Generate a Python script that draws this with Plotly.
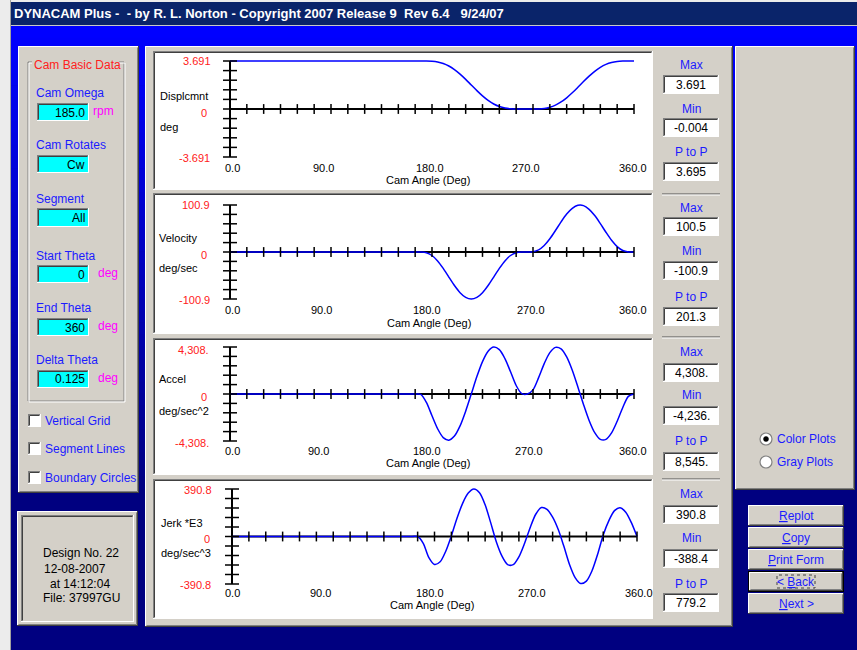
import plotly.graph_objects as go

W, H = 857, 650
FONT = "Liberation Sans"

# ---------------- data ----------------
ANGLE = [0, 160, 165, 170, 175, 180, 185, 190, 195, 200, 205, 210, 215, 220, 225, 230, 235, 240,
         245, 250, 255, 260, 265, 270, 275, 280, 285, 290, 295, 300, 305, 310, 315, 320, 325,
         330, 335, 340, 345, 350, 355, 360]
DISPL = [3.691, 3.691, 3.691, 3.691, 3.689, 3.671, 3.615, 3.498, 3.305, 3.030, 2.683, 2.279,
         1.846, 1.412, 1.008, 0.661, 0.386, 0.193, 0.076, 0.020, 0.002, 0.000, -0.004, 0.000,
         0.009, 0.047, 0.137, 0.299, 0.541, 0.861, 1.245, 1.670, 2.109, 2.527, 2.900, 3.205,
         3.430, 3.577, 3.655, 3.685, 3.691, 3.691]
VEL = [0, 0, 0, 0, -1.5, -7.5, -19.1, -35.3, -53.8, -72.0, -87.3, -97.4, -100.9, -97.4, -87.3,
       -72.0, -53.8, -35.3, -19.1, -7.5, -1.5, 0, 0, 0.5, 4.4, 13.8, 28.3, 46.1, 64.7, 81.4,
       93.7, 100.2, 99.6, 91.6, 78.3, 61.0, 42.4, 25.1, 11.5, 3.2, 0.2, 0]
ACCEL = [0, 0, 0, -27, -765, -1998, -3187, -3994, -4232, -3854, -2921, -1570, 0, 1596, 2970,
         3919, 4304, 4062, 3241, 2032, 778, 27, 0, 380, 1505, 2784, 3788, 4274, 4139, 3403,
         2182, 650, -957, -2421, -3541, -4154, -4162, -3571, -2501, -1234, -220, 0]
JERK = [0, 0, 0, -56, -174, -230, -208, -121, 6, 150, 273, 357, 390, 360, 261, 112, -45, -162,
        -231, -232, -168, -58, 72, 183, 238, 224, 159, 57, -81, -230, -338, -387, -367, -282,
        -146, 13, 131, 213, 237, 200, 114, 0]
SERIES = [DISPL, VEL, ACCEL, JERK]

PLOT_NAMES = ["Displcmnt", "Velocity", "Accel", "Jerk *E3"]
PLOT_UNITS = ["deg", "deg/sec", "deg/sec^2", "deg/sec^3"]
AXIS_MAX = [3.691, 100.9, 4308, 390.8]
AXIS_MAX_TXT = ["3.691", "100.9", "4,308.", "390.8"]
STAT_MAX = ["3.691", "100.5", "4,308.", "390.8"]
STAT_MIN = ["-0.004", "-100.9", "-4,236.", "-388.4"]
STAT_PTP = ["3.695", "201.3", "8,545.", "779.2"]
X_TICK_LABELS = ["0.0", "90.0", "180.0", "270.0", "360.0"]
X_MINOR_TICKS = list(range(0, 361, 15))
X_TITLE = "Cam Angle (Deg)"

LEFT_FIELDS = [("Cam Omega", "185.0", "rpm"), ("Cam Rotates", "Cw", ""), ("Segment", "All", ""),
               ("Start Theta", "0", "deg"), ("End Theta", "360", "deg"), ("Delta Theta", "0.125", "deg")]
CHECKS = ["Vertical Grid", "Segment Lines", "Boundary Circles"]
BUTTONS = ["<u>R</u>eplot", "<u>C</u>opy", "<u>P</u>rint Form", "&lt; <u>B</u>ack", "<u>N</u>ext &gt;"]
DESIGN_LINES = ["Design No. 22", "12-08-2007", "at 14:12:04", "File: 37997GU"]
TITLE = "DYNACAM Plus -\u00a0 - by R. L. Norton - Copyright 2007 Release 9\u00a0 Rev 6.4\u00a0\u00a0 9/24/07"

# ---------------- geometry (pixels) ----------------
FACE = "#D4D0C8"
BLUE_TXT = "#1B1BFF"
GEOM = [
    dict(box=(155, 53, 651, 188), x0=230, x1=634, yt=61, yb=157, tl=(61, 113, 158), tr=(212, 208, 211),
         xl_y=168, xl_x=(232, 323, 430, 526, 633), t_y=180, t_x=428, name=(159, 96), unit=(159, 127)),
    dict(box=(155, 195, 651, 332), x0=230, x1=634, yt=205, yb=299, tl=(205, 255, 300), tr=(211, 208, 211),
         xl_y=310, xl_x=(232, 321, 427, 531, 633), t_y=323, t_x=429, name=(158, 238), unit=(158, 268)),
    dict(box=(155, 340, 651, 473), x0=230, x1=634, yt=347, yb=441, tl=(350, 397, 443), tr=(210, 208, 210),
         xl_y=451, xl_x=(232, 318, 427, 529, 633), t_y=463, t_x=428, name=(158, 379), unit=(158, 411)),
    dict(box=(155, 481, 651, 617), x0=232, x1=637, yt=489, yb=584, tl=(490, 539, 585), tr=(213, 211, 212),
         xl_y=593, xl_x=(232, 320, 430, 532, 639), t_y=605, t_x=432, name=(160, 523), unit=(160, 553)),
]
STAT_Y = [(65, 85, 109, 128, 152, 172), (208, 227, 251, 271, 297, 317),
          (352, 373, 395, 416, 441, 462), (494, 515, 538, 559, 584, 603)]
SEPARATORS = [194, 337, 479]

shapes = []
annotations = []


def rect(x0, y0, x1, y1, fill, lc=None, lw=0, dash=None):
    ln = dict(width=lw, color=lc or "rgba(0,0,0,0)")
    if dash:
        ln["dash"] = dash
    shapes.append(dict(type="rect", xref="paper", yref="paper", x0=x0 / W, x1=x1 / W,
                       y0=1 - y1 / H, y1=1 - y0 / H, fillcolor=fill, line=ln, layer="below"))


def line(x0, y0, x1, y1, color, w=1):
    shapes.append(dict(type="line", xref="paper", yref="paper", x0=x0 / W, x1=x1 / W,
                       y0=1 - y0 / H, y1=1 - y1 / H, line=dict(color=color, width=w), layer="below"))


def circle(cx, cy, r, fill, lc, lw=1):
    shapes.append(dict(type="circle", xref="paper", yref="paper", x0=(cx - r) / W, x1=(cx + r) / W,
                       y0=1 - (cy + r) / H, y1=1 - (cy - r) / H, fillcolor=fill,
                       line=dict(color=lc, width=lw), layer="below"))


def raised(x0, y0, x1, y1, fill=FACE):
    rect(x0, y0, x1, y1, fill)
    line(x0 + 0.5, y0 + 0.5, x1 - 0.5, y0 + 0.5, "#FFFFFF")
    line(x0 + 0.5, y0 + 0.5, x0 + 0.5, y1 - 0.5, "#FFFFFF")
    line(x0, y1 - 0.5, x1, y1 - 0.5, "#404040")
    line(x1 - 0.5, y0, x1 - 0.5, y1, "#404040")
    line(x0 + 1.5, y1 - 1.5, x1 - 1.5, y1 - 1.5, "#808080")
    line(x1 - 1.5, y0 + 1.5, x1 - 1.5, y1 - 1.5, "#808080")


def sunken(x0, y0, x1, y1, fill):
    rect(x0, y0, x1, y1, fill)
    line(x0, y0 + 0.5, x1, y0 + 0.5, "#808080")
    line(x0 + 0.5, y0, x0 + 0.5, y1, "#808080")
    line(x0 + 1.5, y0 + 1.5, x1 - 1.5, y0 + 1.5, "#404040")
    line(x0 + 1.5, y0 + 1.5, x0 + 1.5, y1 - 1.5, "#404040")
    line(x0, y1 - 0.5, x1, y1 - 0.5, "#FFFFFF")
    line(x1 - 0.5, y0, x1 - 0.5, y1, "#FFFFFF")


def text(x, y, s, color="black", size=11, xanchor="left", bold=False):
    annotations.append(dict(xref="paper", yref="paper", x=x / W, y=1 - y / H, text=s,
                            showarrow=False, xanchor=xanchor, yanchor="middle", borderpad=0,
                            font=dict(family=FONT, size=size, color=color,
                                      weight="bold" if bold else "normal")))


# ---------------- window background ----------------
N = 40
for k in range(N):
    y0 = 26 + k * (500 - 26) / N
    y1 = 26 + (k + 1) * (500 - 26) / N + 0.6
    t = k / (N - 1)
    b = int(round(255 - t * (255 - 128)))
    rect(0, y0, W, y1, f"rgb(0,0,{b})")
rect(0, 0, W, 2, "#ECECEC")
rect(0, 0, 10, H, "#ECECEC")
line(10.5, 0, 10.5, H, "#A0A0A0")
rect(11, 2, W, 25, "#0A246A")
line(11, 25.5, W, 25.5, "#C8C8C8")
text(13, 14, TITLE, color="white", size=13, bold=True)

# ---------------- left panel ----------------
raised(18, 46, 139, 493)
gx0, gy0, gx1, gy1 = 28, 62, 124, 401
rect(gx0, gy0, gx1, gy1, "rgba(0,0,0,0)", "#808080", 1)
rect(gx0 + 1, gy0 + 1, gx1 + 1, gy1 + 1, "rgba(0,0,0,0)", "#FFFFFF", 1)
rect(32, 57, 119, 71, FACE)
text(33, 65, "Cam Basic Data", color="#FF2020", size=12)
LABEL_Y = [93, 145, 199, 256, 308, 360]
BOX_Y = [(103, 121), (155, 173), (208, 227), (265, 283), (318, 336), (370, 388)]
UNIT_X = [92, 0, 0, 97, 97, 97]
for (lab, val, unit), ly, (b0, b1), ux in zip(LEFT_FIELDS, LABEL_Y, BOX_Y, UNIT_X):
    text(35, ly, lab, color=BLUE_TXT, size=12)
    sunken(37, b0, 89, b1, "#00FFFF")
    text(86, (b0 + b1) / 2 + 0.5, val, size=12, xanchor="right")
    if unit:
        text(ux, (b0 + b1) / 2 - 1, unit, color="#FF00FF", size=12)
for lab, cy in zip(CHECKS, [421, 449, 478]):
    sunken(28, cy - 7, 41, cy + 6, "#FFFFFF")
    text(44, cy, lab, color=BLUE_TXT, size=12)

# design box
raised(17, 511, 138, 626)
sunken(21, 515, 134, 622, FACE)
for s, y, x in zip(DESIGN_LINES, [553, 569, 584, 598], [42, 43, 49, 42]):
    text(x, y, s, size=12)

# ---------------- plots panel ----------------
raised(145, 46, 733, 627)
for g in GEOM:
    bx0, by0, bx1, by1 = g["box"]
    sunken(bx0 - 2, by0 - 2, bx1 + 2, by1 + 2, "#FFFFFF")
for sy in SEPARATORS:
    line(662, sy, 720, sy, "#505050")
    line(662, sy + 1, 720, sy + 1, "#FFFFFF")
for i in range(4):
    ym, bm, yn, bn, yp, bp = STAT_Y[i]
    text(691, ym, "Max", color=BLUE_TXT, size=12, xanchor="center")
    text(691, yn, "Min", color=BLUE_TXT, size=12, xanchor="center")
    text(691, yp, "P to P", color=BLUE_TXT, size=12, xanchor="center")
    for bc, val in [(bm, STAT_MAX[i]), (bn, STAT_MIN[i]), (bp, STAT_PTP[i])]:
        sunken(663, bc - 10, 719, bc + 9, "#FFFFFF")
        text(691, bc, val, size=12, xanchor="center")

# ---------------- right panel & buttons ----------------
raised(735, 46, 855, 490)
for lab, cy, sel in [("Color Plots", 439, True), ("Gray Plots", 462, False)]:
    circle(766, cy, 6, "#FFFFFF", "#808080", 1.2)
    if sel:
        circle(766, cy, 2.5, "#000000", "#000000", 0.5)
    text(776, cy, lab, color=BLUE_TXT, size=12)
BTN_Y = [(505, 526), (527, 548), (549, 570), (571, 592), (593, 614)]
for k, (lab, (b0, b1)) in enumerate(zip(BUTTONS, BTN_Y)):
    if k == 3:
        rect(748, b0, 844, b1, "#000000")
        raised(749, b0 + 1, 843, b1 - 1)
        rect(777, b0 + 4, 815, b1 - 4, "rgba(0,0,0,0)", "#404040", 1, dash="dot")
    else:
        raised(748, b0, 844, b1)
    text(796, (b0 + b1) / 2, lab, color=BLUE_TXT, size=12, xanchor="center")

# ---------------- the four plots ----------------
fig = go.Figure()
layout_axes = {}
PAD = 8
for i in range(4):
    g = GEOM[i]
    m = AXIS_MAX[i]
    kx = 360 / (g["x1"] - g["x0"])
    ky = 2 * m / (g["yb"] - g["yt"])
    xs = "" if i == 0 else str(i + 1)
    layout_axes["xaxis" + xs] = dict(domain=[(g["x0"] - PAD) / W, (g["x1"] + PAD) / W],
                                     range=[-PAD * kx, 360 + PAD * kx], visible=False,
                                     fixedrange=True, anchor="y" + xs)
    layout_axes["yaxis" + xs] = dict(domain=[1 - (g["yb"] + PAD) / H, 1 - (g["yt"] - PAD) / H],
                                     range=[-m - PAD * ky, m + PAD * ky], visible=False,
                                     fixedrange=True, anchor="x" + xs)
    xa, ya = "x" + xs, "y" + xs
    # axis lines
    fig.add_trace(go.Scatter(x=[0, 0, None, 0, 360], y=[-m, m, None, 0, 0], mode="lines",
                             line=dict(color="black", width=2), xaxis=xa, yaxis=ya,
                             hoverinfo="skip", showlegend=False))
    # curve
    fig.add_trace(go.Scatter(x=ANGLE, y=SERIES[i], mode="lines",
                             line=dict(color="#0000FF", width=1.5, shape="spline", smoothing=0.8),
                             xaxis=xa, yaxis=ya, showlegend=False, name=PLOT_NAMES[i]))
    # tick marks
    fig.add_trace(go.Scatter(x=X_MINOR_TICKS, y=[0] * len(X_MINOR_TICKS), mode="markers",
                             marker=dict(symbol="line-ns", size=7, line=dict(width=1.5, color="black")),
                             xaxis=xa, yaxis=ya, hoverinfo="skip", showlegend=False))
    yt = [m * k / 5 for k in range(-5, 6)]
    fig.add_trace(go.Scatter(x=[0] * len(yt), y=yt, mode="markers",
                             marker=dict(symbol="line-ew", size=10, line=dict(width=1.5, color="black")),
                             xaxis=xa, yaxis=ya, hoverinfo="skip", showlegend=False))
    # labels
    t_top, t_zero, t_bot = g["tl"]
    r_top, r_zero, r_bot = g["tr"]
    text(r_top, t_top, AXIS_MAX_TXT[i], color="#FF2020", xanchor="right")
    text(r_zero, t_zero, "0", color="#FF2020", xanchor="right")
    text(r_bot, t_bot, "-" + AXIS_MAX_TXT[i], color="#FF2020", xanchor="right")
    for lab, lx in zip(X_TICK_LABELS, g["xl_x"]):
        text(lx, g["xl_y"], lab, xanchor="center")
    text(g["t_x"], g["t_y"], X_TITLE, xanchor="center")
    text(g["name"][0], g["name"][1], PLOT_NAMES[i])
    text(g["unit"][0], g["unit"][1], PLOT_UNITS[i])

fig.update_layout(width=W, height=H, margin=dict(l=0, r=0, t=0, b=0, pad=0),
                  paper_bgcolor="#000080", plot_bgcolor="rgba(0,0,0,0)",
                  shapes=shapes, annotations=annotations, showlegend=False,
                  font=dict(family=FONT, size=11), **layout_axes)

fig.write_html("out.html", config={"displayModeBar": False},
               post_script="document.body.style.margin='0';")
